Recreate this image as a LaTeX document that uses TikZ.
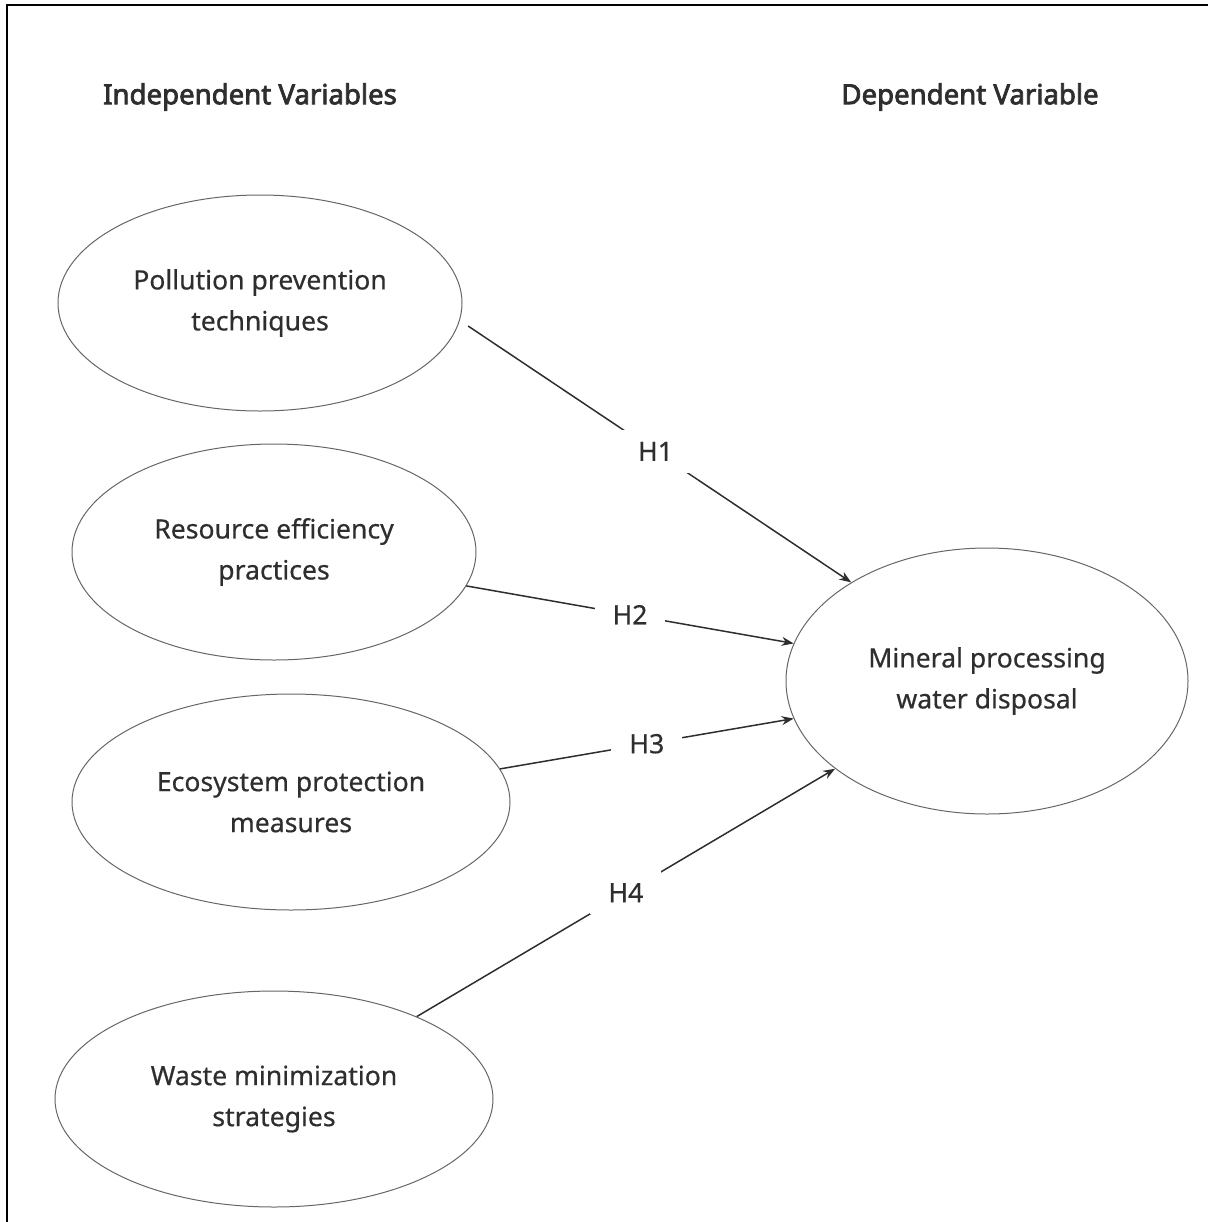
\documentclass[tikz,border=0pt]{standalone}
\usepackage{fontspec}
\setmainfont{Noto Sans}[FakeBold=0.5]
\newfontfamily\bodyfont{Noto Sans}[FakeBold=0.5]
\newfontfamily\titlefont{Noto Sans}[FakeBold=2.8]
\usetikzlibrary{shapes.geometric,arrows.meta}
\definecolor{txt}{HTML}{2E2E2E}
\definecolor{edge}{HTML}{666666}
\tikzset{
  var/.style={ellipse, draw=edge, line width=0.5pt, inner sep=0pt, align=center,
    text=txt, font=\bodyfont\bfseries\fontsize{13.3pt}{20.5pt}\selectfont},
  title/.style={text=txt, font=\titlefont\bfseries\fontsize{13.8pt}{17pt}\selectfont},
  hyp/.style={draw=txt, line width=0.75pt, -{Stealth[length=6pt,width=4.5pt]}},
  hlab/.style={fill=white, text=txt, inner xsep=9pt, inner ysep=6pt, font=\bodyfont\bfseries\fontsize{13.3pt}{17pt}\selectfont}
}
\begin{document}
\begin{tikzpicture}[x=0.5pt,y=-0.5pt]
\useasboundingbox (0,0) rectangle (1208,1222);
\draw[line width=1pt] (7,1222) -- (7,5) -- (1208,5);

\node[title] (ti) at (250,97) {Independent Variables};
\node[title] (td) at (970,97) {Dependent Variable};

\node[var, minimum width=202pt, minimum height=108pt] (e1) at (260,303) {Pollution prevention\\techniques};
\node[var, minimum width=202pt, minimum height=108pt] (e2) at (274,552) {Resource efficiency\\practices};
\node[var, minimum width=219pt, minimum height=108pt] (e3) at (291,802) {Ecosystem protection\\measures};
\node[var, minimum width=219pt, minimum height=108pt] (e4) at (274,1099) {Waste minimization\\strategies};
\node[var, minimum width=201pt, minimum height=133pt] (t) at (987,681) {Mineral processing\\water disposal};

\draw[hyp, shorten <=5pt] (e1.-5.2) -- node[hlab] {H1} (t.144.8);
\draw[hyp] (e2.-10.6) -- node[hlab] {H2} (t.169.8);
\draw[hyp] (e3.9.8) -- node[hlab] {H3} (t.-169.8);
\draw[hyp] (e4.30.4) -- node[hlab] {H4} (t.210.8);
\end{tikzpicture}
\end{document}
